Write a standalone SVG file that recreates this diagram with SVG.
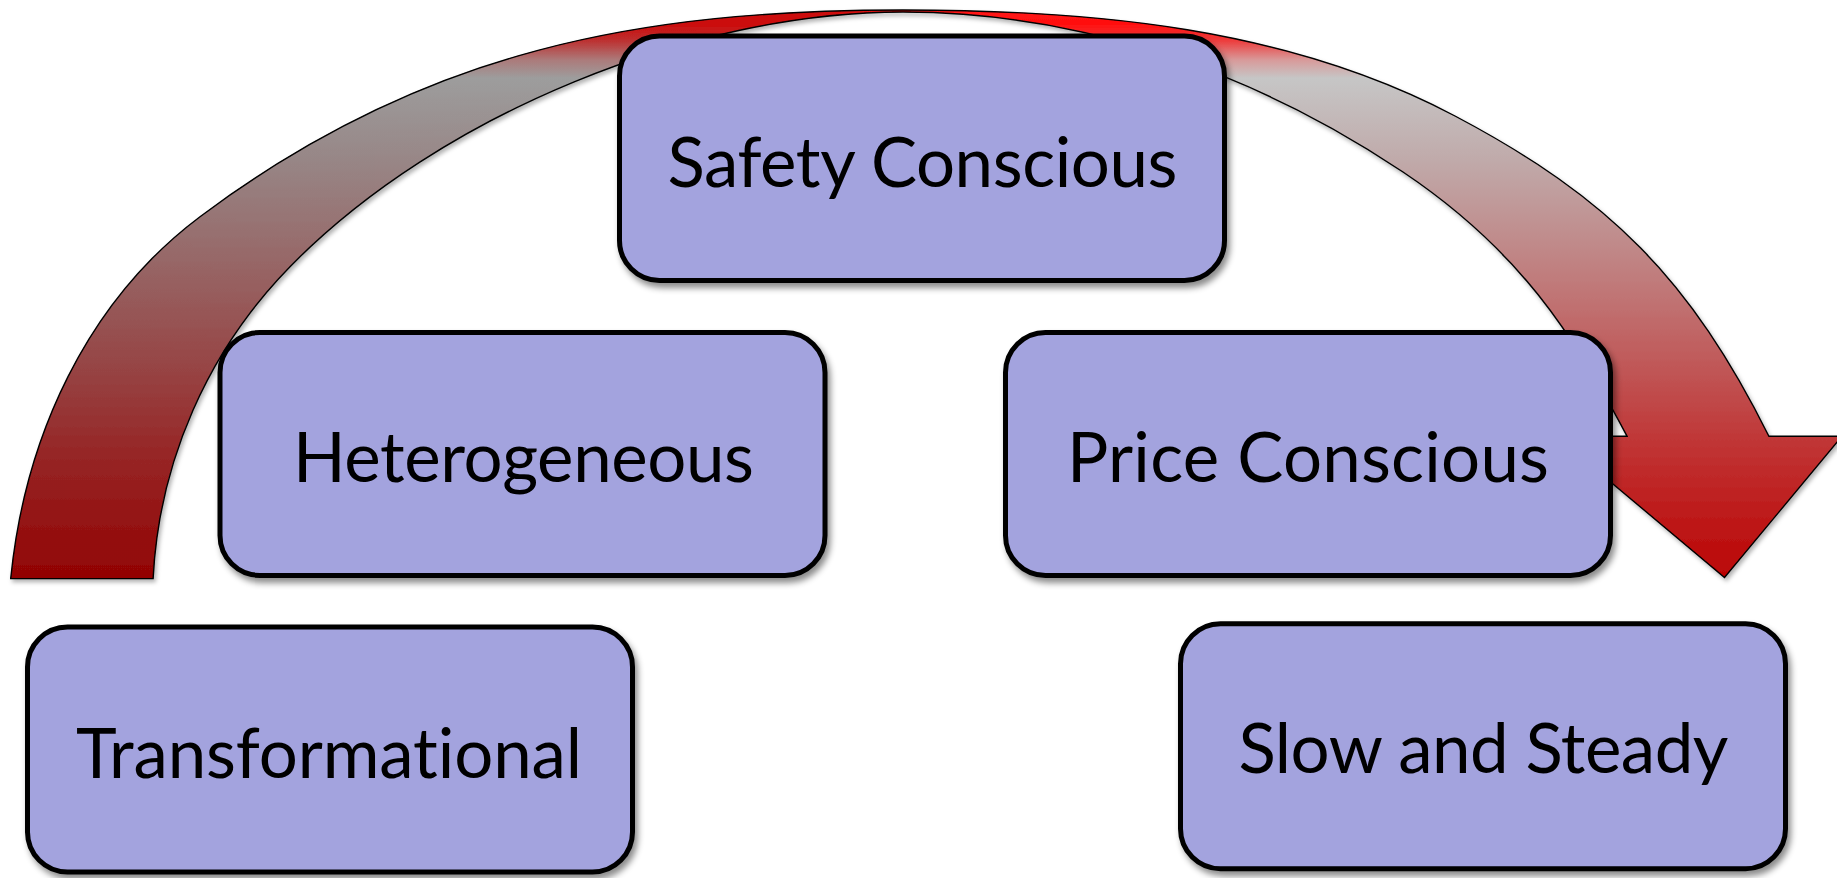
<svg xmlns="http://www.w3.org/2000/svg" width="1837" height="878" viewBox="0 0 1837 878">
<defs>
<linearGradient id="arrowV" gradientUnits="userSpaceOnUse" x1="0" y1="10" x2="0" y2="578">
<stop offset="0" stop-color="#ff1414"/>
<stop offset="0.026" stop-color="#ff1010"/>
<stop offset="0.053" stop-color="#ee3a3a"/>
<stop offset="0.088" stop-color="#d89a9a"/>
<stop offset="0.12" stop-color="#c6c6c6"/>
<stop offset="0.264" stop-color="#c0aaaa"/>
<stop offset="0.42" stop-color="#c08888"/>
<stop offset="0.634" stop-color="#c05656"/>
<stop offset="0.775" stop-color="#c03232"/>
<stop offset="1" stop-color="#bb0404"/>
</linearGradient>
<linearGradient id="arrowShade" gradientUnits="userSpaceOnUse" x1="0" y1="0" x2="1837" y2="0">
<stop offset="0" stop-color="#000" stop-opacity="0.22"/>
<stop offset="0.45" stop-color="#000" stop-opacity="0.2"/>
<stop offset="0.52" stop-color="#000" stop-opacity="0"/>
<stop offset="1" stop-color="#000" stop-opacity="0"/>
</linearGradient>
<filter id="shadow" x="-10%" y="-10%" width="130%" height="130%">
<feDropShadow dx="3" dy="5" stdDeviation="3" flood-color="#000" flood-opacity="0.45"/>
</filter>
<filter id="arrowShadow" x="-5%" y="-5%" width="115%" height="115%">
<feDropShadow dx="2" dy="3" stdDeviation="2" flood-color="#000" flood-opacity="0.3"/>
</filter>
<path id="arrowShape" d="M10.7,578.6 C24.8,437.2 86.3,302 200,216.7 C424,48.7 643,10 903,10 C1093.1,10 1286.9,27.3 1455,116 C1609.8,197.7 1690.7,279.7 1768.9,436.2 L1842,436.2 L1724.5,577.5 L1556,436.2 L1627,436.2 C1572,332.7 1519.3,250 1403,172 C1254.5,72.4 1081.8,12 903,12 C693,12 440.5,113.2 290,266.7 C207.9,350.5 159,461.5 153.1,578.6 Z"/>
</defs>
<style>
.box { fill:#a3a3de; stroke:#000; stroke-width:5; filter:url(#shadow); }
.label { font-family:Lato, "Liberation Sans", sans-serif; font-size:69px; fill:#000; text-anchor:middle; font-variant-ligatures:none; font-feature-settings:"liga" 0, "clig" 0; }
</style>
<rect width="1837" height="878" fill="#ffffff"/>
<g id="connectors">
<g filter="url(#arrowShadow)">
<use href="#arrowShape" fill="url(#arrowV)"/>
<use href="#arrowShape" fill="url(#arrowShade)" stroke="#000" stroke-width="1.4" stroke-linejoin="miter"/>
</g>
</g>
<g id="node-safety">
<rect class="box" x="619.5" y="36" width="605" height="244.5" rx="40" ry="40"/>
<text class="label" x="922.5" y="187" textLength="510">Safety Conscious</text>
</g>
<g id="node-heterogeneous">
<rect class="box" x="220" y="332.5" width="605" height="243" rx="40" ry="40"/>
<text class="label" x="523.5" y="482" textLength="461">Heterogeneous</text>
</g>
<g id="node-price">
<rect class="box" x="1005.5" y="332.5" width="605" height="243" rx="40" ry="40"/>
<text class="label" x="1308" y="482" textLength="482">Price Conscious</text>
</g>
<g id="node-transformational">
<rect class="box" x="27.5" y="627" width="605" height="245" rx="40" ry="40"/>
<text class="label" x="329" y="778" textLength="506">Transformational</text>
</g>
<g id="node-slow">
<rect class="box" x="1180.5" y="623.8" width="605" height="245" rx="40" ry="40"/>
<text class="label" x="1483.4" y="773" textLength="490">Slow and Steady</text>
</g>
</svg>
